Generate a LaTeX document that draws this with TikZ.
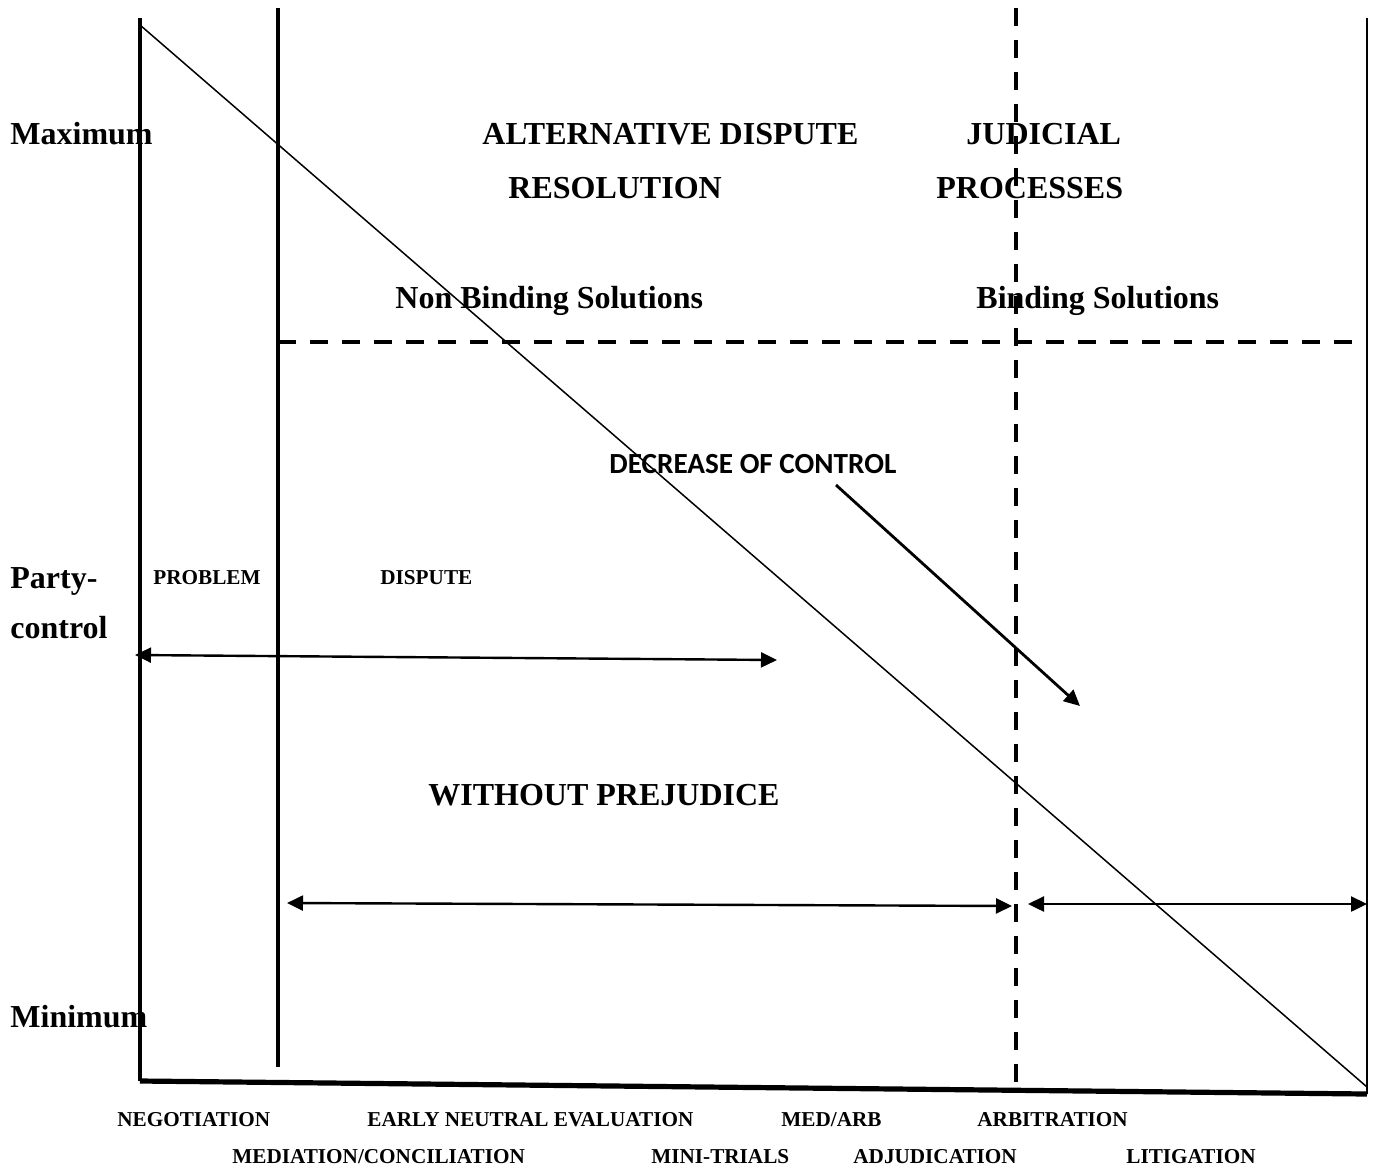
\documentclass[tikz,border=0pt]{standalone}
\usepackage{fontspec}
\setmainfont{Liberation Serif}
\newfontfamily\calibfont{Carlito}
\usetikzlibrary{arrows.meta}

\begin{document}
\begin{tikzpicture}[x=0.5pt, y=-0.5pt,
  big/.style={font=\bfseries\fontsize{16}{19}\selectfont, anchor=base west, inner sep=0pt},
  small/.style={font=\bfseries\fontsize{10.6}{12}\selectfont, anchor=base west, inner sep=0pt},
  dashline/.style={line width=2pt, dash pattern=on 9pt off 7pt},
  >={Triangle[length=8pt,width=7.5pt]}]
\useasboundingbox (0,0) rectangle (1377,1169);
% frame and dividers
\coordinate (tl) at (140,18);
\coordinate (top) at (140,25);
\coordinate (bl) at (140,1081);
\coordinate (br) at (1367,1094);
\coordinate (end) at (1367,1087);
\coordinate (tr) at (1367,18);
\coordinate (ma) at (278,8);
\coordinate (mb) at (278,1067);
\coordinate (da) at (1016,8);
\coordinate (db) at (1016,1090);
\coordinate (ha) at (278,342);
\coordinate (hb) at (1362,342);
\draw [line width=2pt] (tl) -- (bl);
\draw [line width=2.6pt] (bl) -- (br);
\draw [line width=1pt] (br) -- (tr);
\draw [line width=2pt] (ma) -- (mb);
\draw [dashline] (da) -- (db);
\draw [dashline, line width=1.6pt] (ha) -- (hb);
\draw [line width=0.75pt] (top) -- (end);
% arrows
\coordinate (pa) at (135,655);
\coordinate (pb) at (777,660);
\coordinate (wa) at (287,903);
\coordinate (wb) at (1012,906);
\coordinate (la) at (1028,904);
\coordinate (lb) at (1367,904);
\coordinate (ca) at (836,485);
\coordinate (cb) at (1080,706);
\draw [<->, line width=1.2pt] (pa) -- (pb);
\draw [<->, line width=1.2pt] (wa) -- (wb);
\draw [<->, line width=1.2pt] (la) -- (lb);
\draw [->, line width=1.4pt] (ca) -- (cb);
% labels
\node [big] (max) at (10,144) {Maximum};
\node [big] (party) at (10,588) {Party-};
\node [big] (ctrl) at (10,638) {control};
\node [big] (min) at (10,1027) {Minimum};
\node [big] (adr) at (482,144) {ALTERNATIVE DISPUTE};
\node [big] (res) at (508,198) {RESOLUTION};
\node [big] (jud) at (966,144) {JUDICIAL};
\node [big] (proc) at (936,198) {PROCESSES};
\node [big] (nonb) at (395,308) {Non Binding Solutions};
\node [big] (bind) at (976,308) {Binding Solutions};
\node [big] (wop) at (428,805) {WITHOUT PREJUDICE};
\node [anchor=base west, inner sep=0pt, font=\calibfont\bfseries\fontsize{14.6}{17}\selectfont] (dec) at (609,473) {DECREASE OF CONTROL};
\node [small] (prob) at (153,584) {PROBLEM};
\node [small] (disp) at (380,584) {DISPUTE};
% methods along the bottom
\node [small] (neg) at (117,1126) {NEGOTIATION};
\node [small] (ene) at (367,1126) {EARLY NEUTRAL EVALUATION};
\node [small] (medarb) at (781,1126) {MED/ARB};
\node [small] (arb) at (977,1126) {ARBITRATION};
\node [small] (medcon) at (232,1163) {MEDIATION/CONCILIATION};
\node [small] (mini) at (651,1163) {MINI-TRIALS};
\node [small] (adj) at (853,1163) {ADJUDICATION};
\node [small] (lit) at (1126,1163) {LITIGATION};
\end{tikzpicture}
\end{document}
